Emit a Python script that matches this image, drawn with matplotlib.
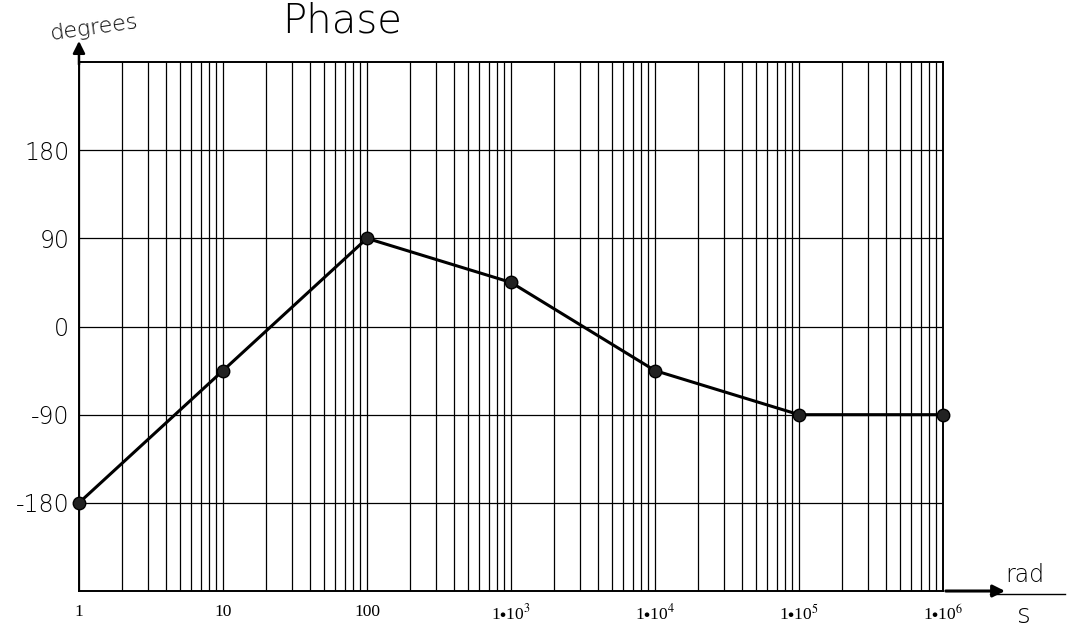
import numpy as np
import matplotlib.pyplot as plt
from matplotlib.ticker import FixedLocator, LogLocator, NullFormatter

plt.rcParams['font.family'] = ['Liberation Serif', 'DejaVu Serif']
plt.rcParams['mathtext.fontset'] = 'stix'

# phase response, rad/s vs degrees
omega = [1, 10, 100, 1e3, 1e4, 1e5, 1e6]
phase = [-180, -45, 90, 45, -45, -90, -90]

x_ticks = [1, 10, 100, 1e3, 1e4, 1e5, 1e6]
x_labels = ['1', '10', '100', r'1$\bullet$10$^{3}$', r'1$\bullet$10$^{4}$',
            r'1$\bullet$10$^{5}$', r'1$\bullet$10$^{6}$']
y_ticks = [-180, -90, 0, 90, 180]
y_labels = ['-180', '-90', '0', '90', '180']

fig = plt.figure(figsize=(10.76, 6.27), dpi=100)
ax = fig.add_axes([0.0734, 0.0574, 0.803, 0.8437])

ax.set_xscale('log')
ax.set_xlim(1, 1e6)
ax.set_ylim(-270, 270)

# log paper: a vertical line for every minor step, horizontal every 90 deg
ax.xaxis.set_major_locator(FixedLocator(x_ticks))
ax.xaxis.set_minor_locator(LogLocator(base=10, subs=np.arange(2, 10)))
ax.xaxis.set_minor_formatter(NullFormatter())
ax.set_xticks(x_ticks)
ax.set_xticklabels(x_labels, fontsize=12.5)
ax.set_yticks(y_ticks)
ax.set_yticklabels(y_labels, fontsize=17, family=['DejaVu Sans'], fontweight='light')
ax.tick_params(axis='both', which='both', length=0)
ax.tick_params(axis='x', pad=9)
ax.tick_params(axis='y', pad=7)
ax.grid(True, which='both', axis='x', color='black', lw=0.9)
ax.grid(True, which='major', axis='y', color='black', lw=0.9)
for sp in ax.spines.values():
    sp.set_color('black')
    sp.set_linewidth(1.4)

ax.plot(omega, phase, color='black', lw=2.2, marker='o', ms=9,
        markerfacecolor='#222222', markeredgecolor='black', zorder=5, clip_on=False)

# axis arrows and handwritten-style labels
ax.annotate('', xy=(0, 1.045), xytext=(0, 0.99), xycoords='axes fraction',
            arrowprops=dict(arrowstyle='-|>', color='black', lw=1.8, mutation_scale=18))
ax.annotate('', xy=(1.075, 0.0), xytext=(1.0, 0.0), xycoords='axes fraction',
            arrowprops=dict(arrowstyle='-|>', color='black', lw=2.2, mutation_scale=18))
fig.text(0.045, 0.955, 'degrees', fontsize=16, family=['DejaVu Sans'],
         fontweight='light', rotation=8, ha='left', va='center')
fig.text(0.262, 0.966, 'Phase', fontsize=29, family=['DejaVu Sans'],
         fontweight='light', ha='left', va='center')
fig.text(0.952, 0.083, 'rad', fontsize=17, family=['DejaVu Sans'],
         fontweight='light', ha='center', va='center')
fig.add_artist(plt.Line2D([0.92, 0.99], [0.052, 0.052], color='black', lw=1.0))
fig.text(0.952, 0.018, 's', fontsize=19, family=['DejaVu Sans'],
         fontweight='light', ha='center', va='center')

fig.savefig('out.png', dpi=100)
